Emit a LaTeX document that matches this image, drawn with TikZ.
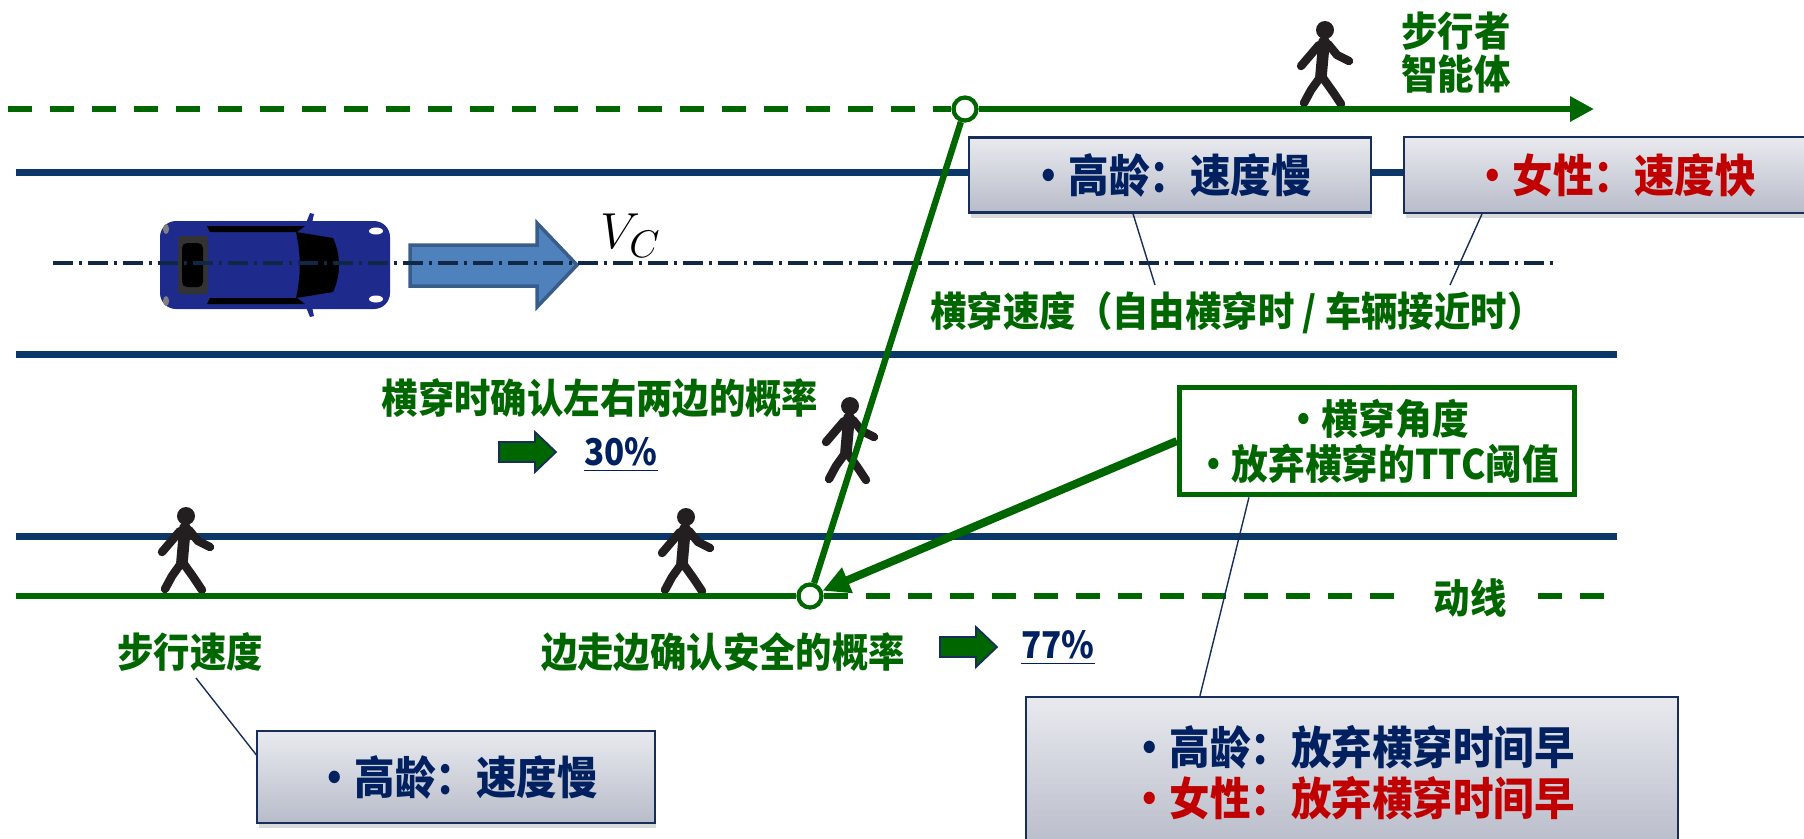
\documentclass[tikz,border=0pt]{standalone}
\usepackage{fontspec}
\usetikzlibrary{arrows.meta,positioning,shadows}
\newfontfamily\cjk{Noto Sans CJK SC}[FakeStretch=0.9]

\definecolor{walkgreen}{RGB}{0,102,0}
\definecolor{roadblue}{RGB}{11,56,104}
\definecolor{axisblue}{RGB}{16,40,70}
\definecolor{txtnavy}{RGB}{0,32,96}
\definecolor{txtred}{RGB}{192,0,0}
\definecolor{boxedge}{RGB}{23,45,90}
\definecolor{boxtop}{RGB}{233,234,239}
\definecolor{boxbot}{RGB}{184,188,201}
\definecolor{cararrow}{RGB}{79,129,189}
\definecolor{cararrowedge}{RGB}{56,93,138}
\definecolor{carbody}{RGB}{30,42,140}
\definecolor{walkerink}{RGB}{35,31,32}

\tikzset{
  walker/.pic={
    \fill[walkerink] (0,0) circle (0.09cm);
    \draw[walkerink, line width=3.3pt, line cap=round] (-1,12) -- (-4,46);
    \draw[walkerink, line width=2.4pt, line cap=round, line join=round]
      (-6,15) -- (-24,36)
      (3,14) -- (12,25) -- (24,31)
      (-4,46) -- (-14,60) -- (-21,73)
      (-2,48) -- (8,62) -- (16,74);
  },
  smallarrow/.pic={
    \draw[boxedge, fill=walkgreen, line width=0.5pt]
      (0,-10) -- (36,-10) -- (36,-20) -- (57,0) -- (36,20) -- (36,10) -- (0,10) -- cycle;
  }
}

\begin{document}
\begin{tikzpicture}[x=0.01cm, y=-0.01cm,
  road/.style={roadblue, line width=2pt},
  route/.style={walkgreen, line width=1.8pt},
  routedash/.style={route, dash pattern=on 0.24cm off 0.18cm},
  turnpt/.style={circle, draw=walkgreen, fill=white, line width=1.2pt, minimum size=0.23cm, inner sep=0pt},
  lbl/.style={text=walkgreen, inner sep=1pt, font=\cjk\bfseries\fontsize{11.5}{12.2}\selectfont},
  infobox/.style={draw=boxedge, line width=0.6pt, top color=boxtop, bottom color=boxbot,
    drop shadow={opacity=0.3, shadow xshift=0.5pt, shadow yshift=-1.5pt},
    inner sep=0pt, align=center, text=txtnavy, font=\cjk\bfseries\fontsize{12.8}{14.5}\selectfont},
  ctrlbox/.style={draw=walkgreen, line width=1.4pt, fill=white, align=center, text=walkgreen,
    minimum width=3.95cm, minimum height=1.07cm, font=\cjk\bfseries\fontsize{11.6}{12.8}\selectfont},
  callout/.style={boxedge, line width=0.4pt},
  pct/.style={text=txtnavy, font=\cjk\bfseries\fontsize{10.5}{12}\selectfont}
]
\clip (0,0) rectangle (1804,838);

\draw[road] (16,172) -- (1617,172);
\draw[road] (16,354) -- (1617,354);
\draw[road] (16,536) -- (1617,536);

% car seen from above
\begin{scope}[shift={(275,265)}]
  \fill[carbody] (31,-42) -- (35,-52) -- (39,-51) -- (37,-42) -- cycle;
  \fill[carbody] (31,42) -- (35,52) -- (39,51) -- (37,42) -- cycle;
  \fill[carbody, rounded corners=0.16cm] (-115,-44) rectangle (115,44);
  \fill[black] (-68,-39) -- (30,-39) -- (22,-33) -- (-65,-33) -- cycle;
  \fill[black] (-68,39) -- (30,39) -- (22,33) -- (-65,33) -- cycle;
  \fill[black!80, rounded corners=0.03cm] (-97,-29) rectangle (-67,29);
  \fill[black, rounded corners=0.05cm] (-93,-22) rectangle (-72,22);
  \fill[black] (21,-33) -- (58,-27) .. controls (66,-10) and (66,10) .. (58,27)
    -- (21,33) .. controls (26,10) and (26,-10) .. (21,-33) -- cycle;
  \fill[white] (101,-34) ellipse (0.07cm and 0.035cm);
  \fill[white] (101,34) ellipse (0.07cm and 0.035cm);
  \fill[gray] (-109,-36) ellipse (0.03cm and 0.05cm);
  \fill[gray] (-109,36) ellipse (0.03cm and 0.05cm);
\end{scope}

% speed arrow of the car
\draw[cararrowedge, fill=cararrow, line width=1pt, line join=miter]
  (410,245) -- (537,245) -- (537,223) -- (577,265) -- (537,307) -- (537,286) -- (410,286) -- cycle;
\node[font=\fontsize{15}{18}\selectfont] (vc) at (631,236) {$V_C$};
\draw[axisblue, line width=0.9pt, dash pattern=on 0.2cm off 0.06cm on 0.03cm off 0.06cm] (53,263) -- (1554,263);

\pic at (186,516) {walker};
\pic at (686,517) {walker};
\pic at (850,406) {walker};
\pic at (1325,30) {walker};

\node[turnpt] (turn) at (965,109) {};
\node[turnpt] (meet) at (810,596) {};
\coordinate (topstart) at (8,109);
\coordinate (topend) at (1594,109);
\coordinate (botstart) at (16,596);
\coordinate (botend) at (1605,596);

\draw[routedash] (topstart) -- (turn);
\draw[route, -{Triangle[length=0.24cm,width=0.24cm]}] (turn) -- (topend);
\draw[route] (botstart) -- (meet);
\draw[routedash] (meet) -- (botend);
\draw[route] (meet) -- (turn);

\node[ctrlbox] (gvBox) at (1377,441) {・横穿角度\\・放弃横穿的TTC阈值};
\draw[route, line width=2.3pt, -{Triangle[length=0.27cm,width=0.26cm]}] (gvBox.west) -- (meet);

\coordinate (cs1) at (1155,285);
\coordinate (cs2) at (1450,285);
\coordinate (ws) at (196,678);
\draw[callout] (ws) -- (258,757);

\node[infobox, minimum width=4.01cm, minimum height=0.75cm] (oldSlow) at (1170,175) {・高龄：速度慢};
\node[infobox, text=txtred, minimum width=4.2cm, minimum height=0.76cm] (femFast) at (1614,175) {・女性：速度快};
\node[infobox, minimum width=3.97cm, minimum height=0.92cm] (walkOld) at (456,777) {・高龄：速度慢};
\node[infobox, minimum width=6.51cm, minimum height=1.52cm] (quitBox) at (1352,773)
  {\textcolor{txtnavy}{・高龄：放弃横穿时间早}\\\textcolor{txtred}{・女性：放弃横穿时间早}};

\draw[callout] ([xshift=-0.37cm]oldSlow.south) -- (cs1);
\draw[callout] ([xshift=-1.32cm]femFast.south) -- (cs2);
\draw[callout] ([xshift=-1.28cm]gvBox.south) -- ([xshift=-1.52cm]quitBox.north);

\node[lbl, align=center] (agent) at (1456,53) {步行者\\智能体};
\node[lbl] (crossSpd) at (1237,313) {横穿速度（自由横穿时 / 车辆接近时）};
\node[lbl] (lookBoth) at (600,398) {横穿时确认左右两边的概率};
\node[lbl] (walkSpd) at (190,652) {步行速度};
\node[lbl] (walkLook) at (723,652) {边走边确认安全的概率};
\node[lbl, fill=white, inner xsep=0.22cm] (flow) at (1470,598) {动线};

\pic at (499,452) {smallarrow};
\node[pct] (p30) at (621,455) {\underline{30\%}};
\pic at (940,647) {smallarrow};
\node[pct] (p77) at (1058,648) {\underline{77\%}};
\end{tikzpicture}
\end{document}
